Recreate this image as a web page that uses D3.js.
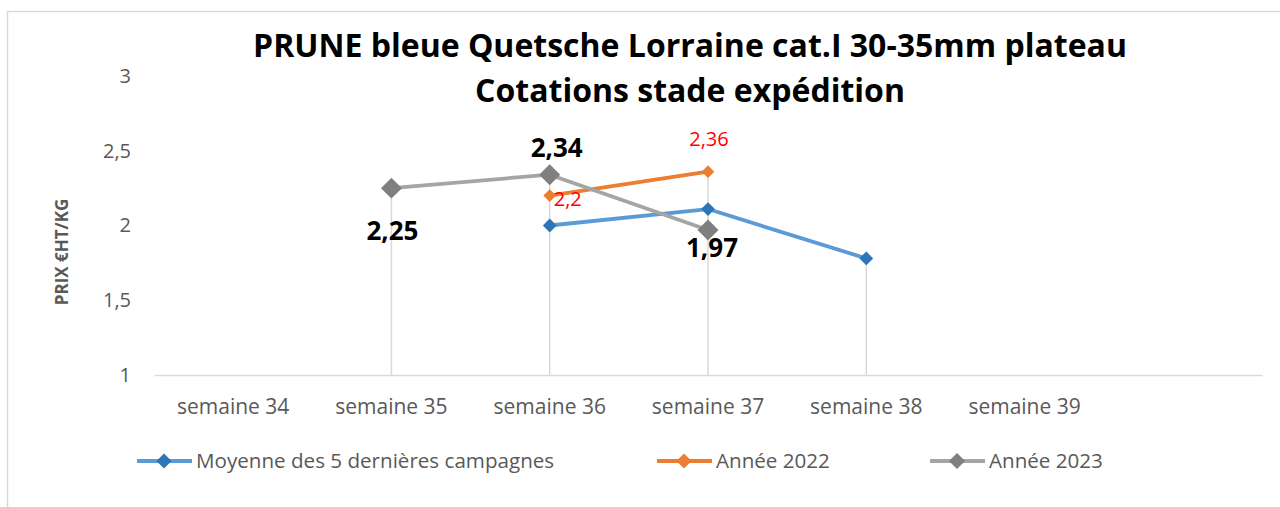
<!DOCTYPE html>
<html>
<head>
<meta charset="utf-8">
<script src="https://cdn.jsdelivr.net/npm/d3@7"></script>
<style>
  html, body { margin: 0; padding: 0; background: #fff; }
  svg { display: block; font-family: "Open Sans", sans-serif; }
</style>
</head>
<body>
<svg id="chart" width="1280" height="507"></svg>
<script>
// ---- data ----
const categories = ["semaine 34", "semaine 35", "semaine 36", "semaine 37", "semaine 38", "semaine 39", ""];
const moyenne    = [null, null, 2.00, 2.11, 1.78, null, null];
const annee2022  = [null, null, 2.20, 2.36, null, null, null];
const annee2023  = [null, 2.25, 2.34, 1.97, null, null, null];
const yTicks     = [1, 1.5, 2, 2.5, 3];
const seriesNames = ["Moyenne des 5 dernières campagnes", "Année 2022", "Année 2023"];
const titleLines = ["PRUNE bleue Quetsche Lorraine cat.I 30-35mm plateau", "Cotations stade expédition"];
const yTitle = "PRIX €HT/KG";

// ---- layout / style ----
const W = 1280, H = 507;
const svg = d3.select("#chart");
const fr = d3.formatLocale({decimal: ",", thousands: " ", grouping: [3], currency: ["", "€"]});
const fmt = v => fr.format("~g")(v);

const x = d3.scaleBand().domain(categories).range([154, 1262]).paddingInner(0).paddingOuter(0);
const y = d3.scaleLinear().domain([1, 3]).range([375, 76]);
const cx = c => x(c) + x.bandwidth() / 2;

const series = [
  {name: seriesNames[0], values: moyenne,   line: "#5B9BD5", marker: "#2E75B6", size: 95,  legendSize: 115,
   label: null},
  {name: seriesNames[1], values: annee2022, line: "#ED7D31", marker: "#ED7D31", size: 80,  legendSize: 115,
   label: {color: "#FF0000", size: 20, weight: 400,
           place: [null, null, {dx: 4, dy: 10, anchor: "start"}, {dx: 1, dy: -26, anchor: "middle"}, null, null, null]}},
  {name: seriesNames[2], values: annee2023, line: "#A5A5A5", marker: "#7F7F7F", size: 220, legendSize: 130,
   label: {color: "#000000", size: 26, weight: 700,
           place: [null, {dx: 1, dy: 52, anchor: "middle"}, {dx: 7, dy: -18, anchor: "middle"}, {dx: 4, dy: 27, anchor: "middle"}, null, null, null]}}
];

// chart border
svg.append("rect").attr("x", 7.5).attr("y", 11.5).attr("width", W + 20).attr("height", H + 20)
  .attr("fill", "none").attr("stroke", "#D9D9D9").attr("stroke-width", 1.5);

// title
svg.append("g").selectAll("text").data(titleLines).join("text")
  .attr("x", 690).attr("y", (d, i) => 57 + i * 45)
  .attr("text-anchor", "middle").attr("font-weight", 700).attr("font-size", 32)
  .attr("fill", "#000").text(d => d);

// y axis
const yAxis = svg.append("g").attr("transform", "translate(131,0)")
  .call(d3.axisLeft(y).tickValues(yTicks).tickSize(0).tickPadding(0).tickFormat(fmt));
yAxis.select(".domain").remove();
yAxis.selectAll("text").attr("font-family", "Open Sans").attr("font-size", 20).attr("fill", "#595959");

// y title
svg.append("text").attr("transform", "translate(68,252) rotate(-90)")
  .attr("text-anchor", "middle").attr("font-weight", 700).attr("font-size", 17)
  .attr("fill", "#595959").text(yTitle);

// drop lines
const dropData = categories.map((c, i) => {
  const vals = series.map(s => s.values[i]).filter(v => v != null);
  return vals.length ? {c, v: d3.max(vals)} : null;
}).filter(d => d);
svg.append("g").selectAll("line").data(dropData).join("line")
  .attr("x1", d => cx(d.c)).attr("x2", d => cx(d.c))
  .attr("y1", d => y(d.v)).attr("y2", y(1))
  .attr("stroke", "#D9D9D9").attr("stroke-width", 1.5);

// x axis
const xAxis = svg.append("g").attr("transform", `translate(0,${y(1)})`)
  .call(d3.axisBottom(x).tickSize(0).tickPadding(0));
xAxis.select(".domain").attr("stroke", "#D9D9D9").attr("stroke-width", 1.5);
xAxis.selectAll("text").attr("font-family", "Open Sans").attr("font-size", 21).attr("fill", "#595959")
  .attr("dy", null).attr("y", 39);

// series
const diamond = s => d3.symbol().type(d3.symbolSquare).size(s)();
const line = d3.line().defined(d => d.v != null).x(d => cx(d.c)).y(d => y(d.v));
series.forEach(s => {
  const pts = categories.map((c, i) => ({c, v: s.values[i], i}));
  svg.append("path").datum(pts).attr("d", line)
    .attr("fill", "none").attr("stroke", s.line).attr("stroke-width", 3.8).attr("stroke-linejoin", "round");
  svg.append("g").selectAll("path").data(pts.filter(d => d.v != null)).join("path")
    .attr("d", diamond(s.size))
    .attr("transform", d => `translate(${cx(d.c)},${y(d.v)}) rotate(45)`)
    .attr("fill", s.marker);
});

// data labels
series.forEach(s => {
  if (!s.label) return;
  const pts = categories.map((c, i) => ({c, v: s.values[i], p: s.label.place[i]})).filter(d => d.v != null && d.p);
  svg.append("g").selectAll("text").data(pts).join("text")
    .attr("x", d => cx(d.c) + d.p.dx).attr("y", d => y(d.v) + d.p.dy)
    .attr("text-anchor", d => d.p.anchor)
    .attr("font-size", s.label.size).attr("font-weight", s.label.weight)
    .attr("fill", s.label.color).text(d => fmt(d.v));
});

// legend
const legendX = [137, 657, 930];
const leg = svg.append("g").attr("transform", "translate(0,461)");
series.forEach((s, i) => {
  const g = leg.append("g").attr("transform", `translate(${legendX[i]},0)`);
  g.append("line").attr("x1", 0).attr("x2", 55).attr("stroke", s.line).attr("stroke-width", 3.8);
  g.append("path").attr("d", diamond(s.legendSize)).attr("transform", "translate(27,0) rotate(45)").attr("fill", s.marker);
  g.append("text").attr("x", 59).attr("dy", "0.35em").attr("font-size", 20.6).attr("fill", "#595959").text(s.name);
});
</script>
</body>
</html>
